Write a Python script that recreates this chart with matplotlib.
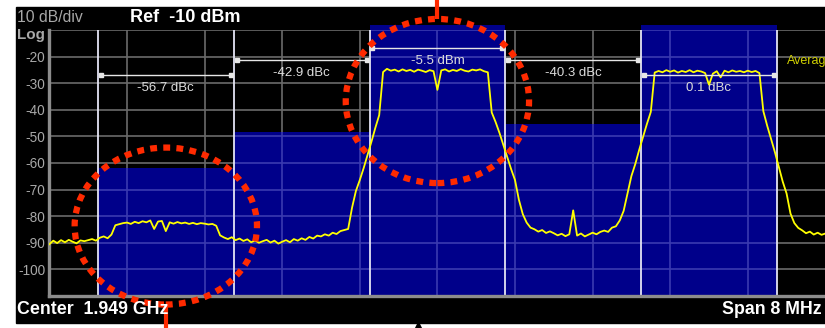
import numpy as np
import matplotlib.pyplot as plt
from matplotlib.patches import Ellipse, Rectangle

plt.rcParams["font.family"] = ["Liberation Sans", "DejaVu Sans"]

# Analyzer settings
center_ghz = 1.949
span_mhz = 8
ref_level = -10
db_per_div = 10

# Trace: one point every 0.04 MHz from -4 MHz to +4 MHz (offset from center), level in dBm
trace_start = -4.0
trace_step = 0.04
trace_db = [
    -90.5, -89.2, -90.1, -89.0, -89.8, -88.9, -89.6, -90.2, -89.1, -89.4,
    -89.0, -88.6, -89.2, -88.1, -87.6, -88.3, -86.9, -83.4, -83.0, -82.6,
    -82.4, -82.9, -82.1, -82.6, -81.9, -82.3, -81.6, -84.8, -82.0, -81.8,
    -85.6, -82.3, -82.8, -82.2, -82.7, -82.4, -82.9, -82.5, -83.0, -82.6,
    -82.8, -83.1, -82.9, -83.6, -87.2, -88.0, -88.6, -87.9, -89.0, -88.4,
    -89.3, -88.7, -89.8, -89.1, -90.0, -89.4, -88.9, -89.9, -89.2, -90.3,
    -89.6, -89.0, -89.8, -88.6, -89.2, -88.3, -88.9, -87.8, -88.4, -87.3,
    -87.6, -86.8, -87.3, -86.2, -86.7, -85.6, -85.2, -84.8, -76.8, -70.5,
    -66.4, -61.9, -57.0, -52.0, -46.8, -42.0, -25.8, -24.6, -25.3, -24.9,
    -25.6, -24.8, -25.4, -25.0, -25.7, -24.9, -25.3, -25.8, -25.1, -25.5,
    -32.5, -25.2, -24.8, -25.6, -25.0, -25.4, -24.7, -25.3, -25.6, -24.9,
    -25.2, -24.8, -25.5, -25.9, -41.0, -44.6, -48.7, -53.2, -57.7, -62.3,
    -66.4, -73.8, -79.2, -82.4, -84.3, -84.9, -85.8, -85.2, -86.3, -85.7,
    -86.4, -87.2, -86.6, -87.5, -86.8, -77.8, -87.3, -86.5, -87.6, -86.9,
    -86.2, -86.8, -85.9, -85.4, -85.9, -84.3, -83.8, -81.6, -78.0, -71.5,
    -64.9, -60.4, -55.1, -50.2, -45.3, -40.8, -26.0, -25.4, -25.9, -25.1,
    -25.7, -25.2, -26.0, -25.4, -25.8, -25.1, -25.9, -25.3, -25.6, -26.2,
    -30.6, -26.4, -25.5, -27.8, -25.3, -25.9, -25.2, -25.7, -25.4, -25.9,
    -25.3, -25.8, -25.4, -26.2, -40.5, -46.0, -51.0, -56.0, -61.5, -67.0,
    -71.5, -79.0, -82.6, -84.4, -85.3, -86.4, -85.8, -86.9, -86.2, -87.0,
    -86.5,
]

# Measurement channels (MHz offset) and their limit levels
band_edges = [-3.5, -2.1, -0.7, 0.7, 2.1, 3.5]
band_tops = [-62.0, -48.3, -8.1, -45.3, -8.1]
band_labels = ["-56.7 dBc", "-42.9 dBc", "-5.5 dBm", "-40.3 dBc", "0.1 dBc"]

ytick_vals = [-20, -30, -40, -50, -60, -70, -80, -90, -100]

# layout of the readouts (dB position of bracket line / text)
bracket_y = [-26.9, -21.3, -16.8, -21.3, -26.9]
label_y = [-31.8, -26.2, -21.7, -26.2, -31.8]

BAND_BLUE = "#00008a"
GRID_BLUE = "#3a3ab0"
GRID_GRAY = "#6a6a6a"
FRAME_GRAY = "#8c8c8c"
LABEL_GRAY = "#a8a8a8"
RED = "#ff2a00"

W, H = 825, 328
fig = plt.figure(figsize=(W / 100, H / 100), dpi=100, facecolor="white")


def px(x, y):
    return x / W, 1 - y / H


# black screen area
fig.patches.append(Rectangle(px(16, 323), (W - 16) / W, (323 - 7) / H,
                             transform=fig.transFigure, color="black", zorder=-10))

ax = fig.add_axes([49.4 / W, (H - 296) / H, 776 / W, 266 / H])
ax.set_facecolor("black")
lo = -span_mhz / 2
hi = span_mhz / 2
bottom = ref_level - 10 * db_per_div
ax.set_xlim(lo, hi)
ax.set_ylim(bottom, ref_level)

grid_x = np.arange(lo + 0.8, hi - 0.01, span_mhz / 10)
grid_y = np.arange(bottom + 10, ref_level + 1, db_per_div)

ax.hlines(grid_y, lo, hi, color=GRID_GRAY, lw=1.2, zorder=1)
ax.vlines(grid_x, bottom, ref_level, color=GRID_GRAY, lw=1.2, zorder=1)

# channel bands
for left, right, top in zip(band_edges[:-1], band_edges[1:], band_tops):
    ax.bar(left, top - bottom, width=right - left, bottom=bottom, align="edge",
           color=BAND_BLUE, zorder=2, clip_on=False)
    ys = grid_y[grid_y < top]
    ax.hlines(ys, left, right, color=GRID_BLUE, lw=1.2, zorder=3)
    xs = grid_x[(grid_x > left) & (grid_x < right)]
    ax.vlines(xs, bottom, min(top, ref_level), color=GRID_BLUE, lw=1.2, zorder=3)

ax.vlines(band_edges, bottom, ref_level, color="#e4e4f4", lw=1.3, zorder=4)

# trace
freqs = trace_start + trace_step * np.arange(len(trace_db))
ax.plot(freqs, trace_db, color="#ffff00", lw=1.3, zorder=5)

# readouts
for left, right, by, ty, lab in zip(band_edges[:-1], band_edges[1:], bracket_y, label_y, band_labels):
    ax.plot([left + 0.03, right - 0.03], [by, by], color="#e6e6e6", lw=1.0,
            marker="s", ms=2.2, zorder=6)
    ax.text((left + right) / 2, ty, lab, color="#dcdcdc", fontsize=9.5,
            ha="center", va="center", zorder=6)

for s in ["top", "right"]:
    ax.spines[s].set_visible(False)
for s in ["left", "bottom"]:
    ax.spines[s].set_color(FRAME_GRAY)
    ax.spines[s].set_linewidth(2.4)
    ax.spines[s].set_zorder(4.5)

ax.set_xticks([])
ax.set_yticks(ytick_vals)
ax.set_yticklabels([str(v) for v in ytick_vals])
ax.tick_params(axis="y", length=0, pad=3, labelcolor=LABEL_GRAY, labelsize=9.8)

# red annotation circles
ax.add_patch(Ellipse((-2.8, -83.7), 1.88, 59, fill=False, edgecolor=RED, lw=4.5,
                     linestyle=(0, (1.1, 1.0)), zorder=8, clip_on=False))
ax.add_patch(Ellipse((0.0, -36.7), 1.89, 61.7, fill=False, edgecolor=RED, lw=4.5,
                     linestyle=(0, (1.1, 1.0)), zorder=8, clip_on=False))
ax.plot([-2.8, -2.8], [-113.5, -130], color=RED, lw=3, zorder=8, clip_on=False,
        solid_capstyle="butt")
ax.plot([0.0, 0.0], [-5.9, 5], color=RED, lw=3, zorder=8, clip_on=False,
        solid_capstyle="butt")
ax.plot([-0.2], [-120.9], marker="^", ms=5, color="black", zorder=8, clip_on=False)

# screen annotations
fig.text(*px(17, 18), f"{db_per_div} dB/div", color=LABEL_GRAY, fontsize=11.3, va="center")
fig.text(*px(17, 35), "Log", color=LABEL_GRAY, fontsize=11, fontweight="bold", va="center")
fig.text(*px(130, 18), f"Ref  {ref_level} dBm", color="white", fontsize=13,
         fontweight="bold", va="center")
fig.text(*px(17, 310), f"Center  {center_ghz} GHz", color="white", fontsize=12.8,
         fontweight="bold", va="center")
fig.text(*px(722, 310), f"Span {span_mhz} MHz", color="white", fontsize=12.8,
         fontweight="bold", va="center")
fig.text(*px(787, 61), "Average", color="#d0d000", fontsize=9, va="center")

fig.savefig("out.png", dpi=100, facecolor="white")
